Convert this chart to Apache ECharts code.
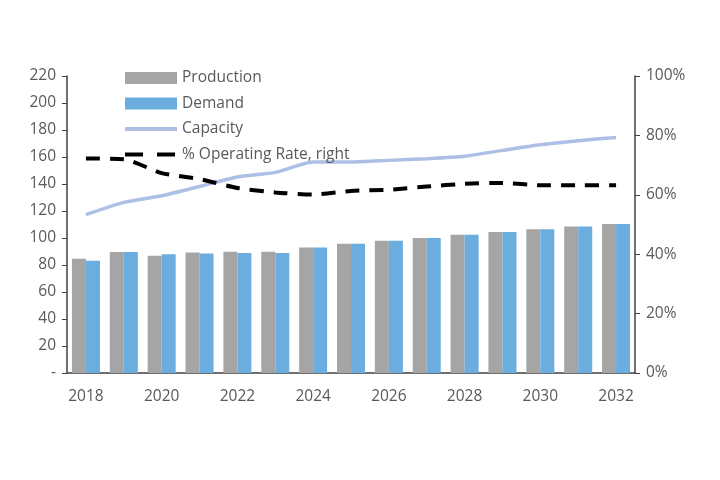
<!DOCTYPE html>
<html><head><meta charset="utf-8">
<script src="https://cdn.jsdelivr.net/npm/echarts@6/dist/echarts.min.js"></script>
<style>html,body{margin:0;padding:0;background:#fff}#c{width:720px;height:480px}</style>
</head><body><div id="c"></div>
<script>
const years = ['2018','2019','2020','2021','2022','2023','2024','2025','2026','2027','2028','2029','2030','2031','2032'];
const production = [84.7, 89.6, 86.9, 89.3, 89.9, 89.9, 93.0, 95.8, 97.9, 100.0, 102.4, 104.4, 106.4, 108.6, 110.4];
const demand     = [83.2, 89.6, 87.9, 88.6, 88.9, 88.9, 93.0, 95.8, 97.9, 100.0, 102.4, 104.4, 106.4, 108.6, 110.4];
const capacity   = [117.3, 126.4, 131.3, 138.2, 145.2, 148.6, 156.3, 156.3, 157.5, 158.7, 160.5, 164.9, 169.1, 172.1, 174.5];
const operatingRate = [72.2, 72.0, 67.3, 65.3, 62.3, 60.8, 60.1, 61.3, 61.7, 62.8, 63.7, 64.0, 63.2, 63.2, 63.2];

const txt = '#595959';
const font = '"Open Sans", "Noto Sans", sans-serif';
const fs = 15.5;
const chart = echarts.init(document.getElementById('c'));
chart.setOption({
  animation: false,
  textStyle: { fontFamily: font },
  grid: { left: 67, right: 85, top: 76, bottom: 107, containLabel: false },
  legend: {
    orient: 'vertical', left: 123, top: 70, padding: 0, itemWidth: 52, itemHeight: 12, itemGap: 9.5,
    textStyle: { color: txt, fontSize: fs, fontFamily: font },
    data: [
      { name: 'Production', icon: 'rect' },
      { name: 'Demand', icon: 'rect' },
      { name: 'Capacity', itemStyle: { opacity: 0 }, lineStyle: { width: 4 } },
      { name: '% Operating Rate, right', itemStyle: { opacity: 0 }, lineStyle: { width: 4, type: [18, 14] } }
    ]
  },
  xAxis: {
    type: 'category', data: years,
    axisLine: { lineStyle: { color: '#404040', width: 1.5 } },
    axisTick: { show: false },
    axisLabel: { color: txt, fontSize: fs, interval: 1, margin: 16, fontFamily: font }
  },
  yAxis: [{
    type: 'value', min: 0, max: 220, interval: 20,
    splitLine: { show: false },
    axisLine: { show: true, lineStyle: { color: '#404040', width: 1.5 } },
    axisTick: { show: true, length: 5, lineStyle: { color: '#404040' } },
    axisLabel: { color: txt, fontSize: fs, margin: 11, fontFamily: font,
      formatter: v => v === 0 ? '-' : v }
  }, {
    type: 'value', min: 0, max: 100, interval: 20, position: 'right',
    splitLine: { show: false },
    axisLine: { show: true, lineStyle: { color: '#404040', width: 1.5 } },
    axisTick: { show: true, length: 5, lineStyle: { color: '#404040' } },
    axisLabel: { color: txt, fontSize: fs, margin: 11, fontFamily: font, formatter: '{value}%' }
  }],
  series: [{
    name: 'Production', type: 'bar', data: production, barGap: '0%', barCategoryGap: '26%',
    itemStyle: { color: '#A5A5A5' }
  }, {
    name: 'Demand', type: 'bar', data: demand,
    itemStyle: { color: '#6AADDE' }
  }, {
    name: 'Capacity', type: 'line', data: capacity, symbol: 'none', smooth: 0.2,
    lineStyle: { color: '#AEBFE6', width: 3.5 }, itemStyle: { color: '#AEBFE6' }
  }, {
    name: '% Operating Rate, right', type: 'line', yAxisIndex: 1, data: operatingRate, symbol: 'none', smooth: 0.2,
    lineStyle: { color: '#000', width: 4, type: [14, 10] }, itemStyle: { color: '#000' }
  }]
});
</script></body></html>
